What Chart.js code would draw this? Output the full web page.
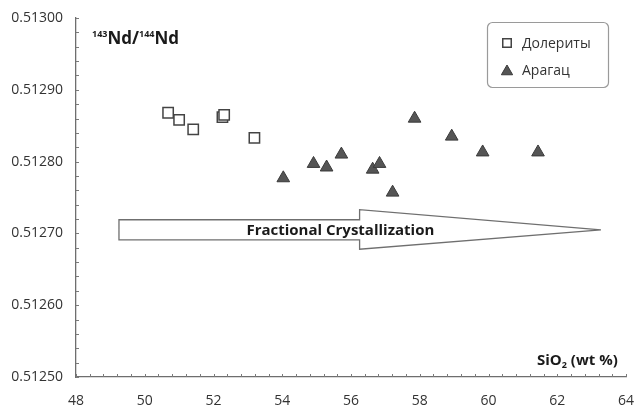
<!DOCTYPE html>
<html>
<head>
<meta charset="utf-8">
<script src="https://cdn.jsdelivr.net/npm/chart.js@4/dist/chart.umd.min.js"></script>
<style>
  html, body { margin: 0; padding: 0; background: #fff; }
  canvas { display: block; }
</style>
</head>
<body>
<canvas id="chart" width="635" height="408"></canvas>
<script>
// SiO2 (wt %) against 143Nd/144Nd
const doleriteSiO2 = [50.68, 51.00, 51.41, 52.26, 52.31, 53.19];
const doleriteNd   = [0.512868, 0.512858, 0.512845, 0.512862, 0.512865, 0.512833];

const aragatsSiO2 = [54.03, 54.91, 55.29, 55.72, 56.63, 56.83, 57.21, 57.85, 58.93, 59.83, 61.44];
const aragatsNd   = [0.512777, 0.512797, 0.512792, 0.512810, 0.512789, 0.512797, 0.512757, 0.512860, 0.512835, 0.512813, 0.512813];

const seriesNames = ['Долериты', 'Арагац'];

const xTickValues = [48, 50, 52, 54, 56, 58, 60, 62, 64];
const yTickValues = [0.5125, 0.5126, 0.5127, 0.5128, 0.5129, 0.5130];

// fractional crystallization arrow, in axis units
const arrowTail = { x: 49.25, yTop: 0.512719, yBottom: 0.512691 };
const arrowNeck = { x: 56.25, yTop: 0.512733, yBottom: 0.512678 };
const arrowTip  = { x: 63.27, y: 0.512705 };
const arrowLabel = 'Fractional Crystallization';

const FONT = "'Open Sans', 'DejaVu Sans', sans-serif";

const toPoints = (xs, ys) => xs.map((x, i) => ({ x, y: ys[i] }));

// arrow drawn under the markers
const crystallizationArrow = {
  id: 'crystallizationArrow',
  beforeDatasetsDraw(chart) {
    const { ctx, scales: { x, y } } = chart;
    const px = v => x.getPixelForValue(v);
    const py = v => y.getPixelForValue(v);
    ctx.save();
    ctx.beginPath();
    ctx.moveTo(px(arrowTail.x), py(arrowTail.yTop));
    ctx.lineTo(px(arrowNeck.x), py(arrowTail.yTop));
    ctx.lineTo(px(arrowNeck.x), py(arrowNeck.yTop));
    ctx.lineTo(px(arrowTip.x), py(arrowTip.y));
    ctx.lineTo(px(arrowNeck.x), py(arrowNeck.yBottom));
    ctx.lineTo(px(arrowNeck.x), py(arrowTail.yBottom));
    ctx.lineTo(px(arrowTail.x), py(arrowTail.yBottom));
    ctx.closePath();
    ctx.fillStyle = '#ffffff';
    ctx.fill();
    ctx.strokeStyle = '#6f6f6f';
    ctx.lineWidth = 1.3;
    ctx.stroke();

    ctx.fillStyle = '#1a1a1a';
    ctx.font = 'bold 15px ' + FONT;
    ctx.textAlign = 'center';
    ctx.textBaseline = 'middle';
    ctx.fillText(arrowLabel, px(55.69), py((arrowTail.yTop + arrowTail.yBottom) / 2) + 1);
    ctx.restore();
  }
};

// small ticks pointing into the plot, axis titles and the legend box
const plotDecor = {
  id: 'plotDecor',
  afterDraw(chart) {
    const { ctx, chartArea: a, scales: { x, y } } = chart;
    ctx.save();

    ctx.strokeStyle = '#7a7a7a';
    ctx.lineWidth = 1;
    ctx.beginPath();
    for (let i = 0; i <= 40; i++) {
      const px = Math.round(x.getPixelForValue(48 + i * 0.4)) + 0.5;
      ctx.moveTo(px, a.bottom);
      ctx.lineTo(px, a.bottom - 3);
    }
    for (let i = 0; i <= 25; i++) {
      const py = Math.round(y.getPixelForValue(0.5125 + i * 0.00002)) + 0.5;
      ctx.moveTo(a.left, py);
      ctx.lineTo(a.left + 3, py);
    }
    ctx.stroke();

    // runs of [text, size, baseline shift]
    const drawRuns = (runs, startX, baseY) => {
      let cx = startX;
      ctx.textAlign = 'left';
      ctx.textBaseline = 'alphabetic';
      for (const [text, size, shift] of runs) {
        ctx.font = 'bold ' + size + 'px ' + FONT;
        ctx.fillText(text, cx, baseY + shift);
        cx += ctx.measureText(text).width;
      }
    };
    ctx.fillStyle = '#1a1a1a';
    drawRuns([['143', 9, -7], ['Nd/', 17, 0], ['144', 9, -7], ['Nd', 17, 0]], a.left + 16, a.top + 26);
    drawRuns([['SiO', 15, 0], ['2', 9, 3], [' (wt %)', 15, 0]], a.right - 89, a.bottom - 12);

    // legend
    const bx = a.right - 139, by = a.top + 4, bw = 121, bh = 65;
    ctx.beginPath();
    ctx.roundRect(bx + 0.5, by + 0.5, bw, bh, 5);
    ctx.fillStyle = '#ffffff';
    ctx.fill();
    ctx.strokeStyle = '#9a9a9a';
    ctx.lineWidth = 1.2;
    ctx.stroke();

    ctx.font = '14px ' + FONT;
    ctx.textBaseline = 'middle';
    chart.data.datasets.forEach((ds, i) => {
      const ly = by + 21 + i * 27;
      ctx.fillStyle = ds.backgroundColor;
      ctx.strokeStyle = ds.borderColor;
      ctx.lineWidth = ds.borderWidth;
      Chart.helpers.drawPoint(ctx, {
        pointStyle: ds.pointStyle,
        radius: ds.pointStyle === 'rect' ? 6 : 6.5,
        borderWidth: ds.borderWidth,
        rotation: 0
      }, bx + 20, ly + (ds.pointStyle === 'rect' ? 0 : 1.5));
      ctx.fillStyle = '#333333';
      ctx.fillText(ds.label, bx + 35, ly + 1);
    });

    ctx.restore();
  }
};

new Chart(document.getElementById('chart'), {
  type: 'scatter',
  data: {
    datasets: [
      {
        label: seriesNames[0],
        data: toPoints(doleriteSiO2, doleriteNd),
        pointStyle: 'rect',
        pointRadius: 7.3,
        pointHoverRadius: 7.3,
        backgroundColor: '#ffffff',
        borderColor: '#444444',
        borderWidth: 1.5
      },
      {
        label: seriesNames[1],
        data: toPoints(aragatsSiO2, aragatsNd),
        pointStyle: 'triangle',
        pointRadius: 7.3,
        pointHoverRadius: 7.3,
        backgroundColor: '#555555',
        borderColor: '#3a3a3a',
        borderWidth: 1
      }
    ]
  },
  options: {
    responsive: false,
    animation: false,
    layout: { padding: { top: 18, right: 9, left: 0, bottom: 0 } },
    plugins: {
      legend: { display: false },
      tooltip: { enabled: false }
    },
    scales: {
      x: {
        type: 'linear',
        min: 48,
        max: 64,
        afterBuildTicks: s => { s.ticks = xTickValues.map(value => ({ value })); },
        afterFit: s => { s.height = 31; s.paddingLeft = 0; s.paddingRight = 0; },
        grid: { display: false, drawTicks: false },
        border: { display: true, color: '#6e6e6e', width: 1.3 },
        ticks: {
          padding: 16,
          maxRotation: 0,
          color: '#333333',
          font: { family: FONT, size: 14 }
        }
      },
      y: {
        type: 'linear',
        min: 0.5125,
        max: 0.5130,
        afterBuildTicks: s => { s.ticks = yTickValues.map(value => ({ value })); },
        afterFit: s => { s.width = 76; s.paddingTop = 0; s.paddingBottom = 0; },
        grid: { display: false, drawTicks: false },
        border: { display: true, color: '#6e6e6e', width: 1.3 },
        ticks: {
          padding: 13,
          color: '#333333',
          font: { family: FONT, size: 14 },
          callback: v => v.toFixed(5)
        }
      }
    }
  },
  plugins: [crystallizationArrow, plotDecor]
});
</script>
</body>
</html>
